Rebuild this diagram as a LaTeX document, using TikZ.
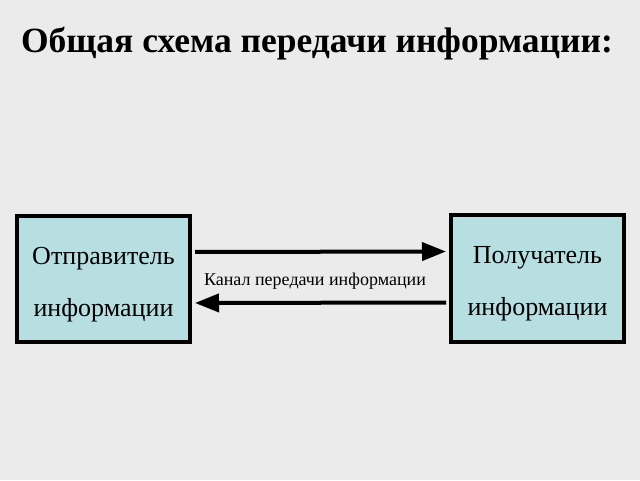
\documentclass[tikz,border=0pt]{standalone}
\usepackage{fontspec}
\setmainfont{Liberation Serif}
\usetikzlibrary{arrows.meta}

\definecolor{fonGrau}{HTML}{EBEBEB}
\definecolor{boxBlau}{HTML}{B7DFE2}

\newcommand{\oben}{\rule{0pt}{28pt}}

\tikzset{
    kasten/.style={draw=black, line width=4pt, fill=boxBlau, align=center,
        minimum width=173pt, minimum height=126pt, inner sep=0pt,
        font=\fontsize{26}{52}\selectfont},
    kanal/.style={line width=4pt, -{Triangle[length=24pt,width=18pt]}, shorten >=3pt, shorten <=3pt}
}

\begin{document}
\begin{tikzpicture}[x=1pt,y=1pt]
        \fill[fonGrau] (0,0) rectangle (640,480);
        \useasboundingbox (0,0) rectangle (640,480);

        % Titel
        \node[font=\bfseries\fontsize{35.5}{40}\selectfont] (titel) at (317,436) {Общая схема передачи информации:};

        % Kästen
        \node[kasten] (sender) at (103.5,201) {\oben Отправитель\\информации};
        \node[kasten] (empf) at (537.5,201.5) {\oben Получатель\\информации};

        % Kanal
        \draw[kanal] ([yshift=27pt]sender.east) -- ([yshift=27pt]empf.west);
        \draw[kanal] ([yshift=-24pt]empf.west) -- ([yshift=-24pt]sender.east);
        \node[font=\fontsize{18}{22}\selectfont] (kanal) at (315,199) {Канал передачи информации};
    \end{tikzpicture}
\end{document}
